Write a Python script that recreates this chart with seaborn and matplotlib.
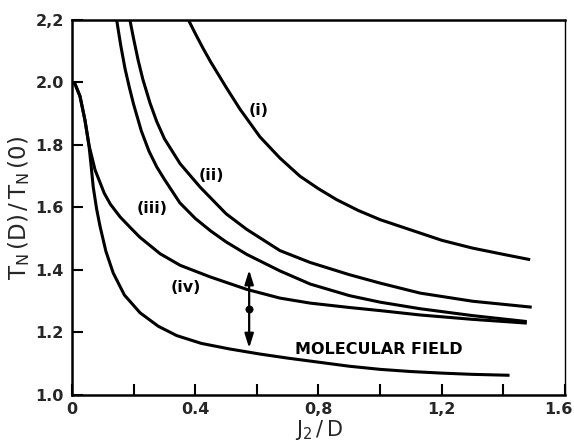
import matplotlib
matplotlib.use("Agg")
import matplotlib.pyplot as plt
import matplotlib.transforms as mtransforms
import pandas as pd
import seaborn as sns

# Neel temperature ratio versus J2/D for the four approximations and molecular field
I_X = [0.378, 0.4, 0.425, 0.45, 0.5, 0.545, 0.61, 0.675, 0.74, 0.8, 0.859, 0.93, 1.0, 1.097, 1.2, 1.3, 1.4, 1.487]
I_Y = [2.2, 2.157, 2.11, 2.066, 1.985, 1.915, 1.826, 1.758, 1.70, 1.66, 1.625, 1.59, 1.561, 1.529, 1.495, 1.47, 1.45, 1.433]

II_X = [0.188, 0.2, 0.215, 0.23, 0.253, 0.275, 0.3, 0.351, 0.416, 0.5, 0.567, 0.675, 0.773, 0.9, 1.0, 1.13, 1.3, 1.492]
II_Y = [2.2, 2.14, 2.07, 2.01, 1.935, 1.875, 1.82, 1.74, 1.665, 1.58, 1.53, 1.462, 1.424, 1.385, 1.358, 1.326, 1.30, 1.281]

III_X = [0.145, 0.158, 0.172, 0.186, 0.2, 0.225, 0.25, 0.275, 0.3, 0.35, 0.4, 0.45, 0.5, 0.567, 0.675, 0.773, 0.9, 1.0, 1.13, 1.3, 1.476]
III_Y = [2.2, 2.12, 2.045, 1.985, 1.93, 1.845, 1.78, 1.73, 1.69, 1.615, 1.565, 1.525, 1.49, 1.45, 1.397, 1.355, 1.318, 1.297, 1.276, 1.254, 1.235]

IV_X = [0, 0.01, 0.026, 0.042, 0.055, 0.065, 0.075, 0.089, 0.105, 0.125, 0.156, 0.19, 0.22, 0.286, 0.351, 0.448, 0.567, 0.675, 0.773, 0.9, 1.0, 1.13, 1.3, 1.476]
IV_Y = [2.0, 1.995, 1.956, 1.88, 1.80, 1.76, 1.72, 1.685, 1.645, 1.61, 1.57, 1.535, 1.505, 1.452, 1.415, 1.378, 1.338, 1.31, 1.294, 1.28, 1.27, 1.256, 1.242, 1.23]

MF_X = [0, 0.01, 0.026, 0.042, 0.055, 0.062, 0.069, 0.08, 0.091, 0.11, 0.134, 0.17, 0.221, 0.28, 0.34, 0.42, 0.513, 0.61, 0.70, 0.80, 0.90, 1.0, 1.1, 1.2, 1.3, 1.42]
MF_Y = [2.0, 1.995, 1.956, 1.88, 1.80, 1.735, 1.665, 1.595, 1.54, 1.46, 1.39, 1.32, 1.263, 1.22, 1.19, 1.165, 1.147, 1.131, 1.118, 1.105, 1.092, 1.082, 1.075, 1.07, 1.066, 1.063]

CURVE_NAMES = ["(i)", "(ii)", "(iii)", "(iv)", "MOLECULAR FIELD"]
LABEL_X = [0.607, 0.451, 0.26, 0.37, 0.997]
LABEL_Y = [1.909, 1.702, 1.596, 1.343, 1.144]

# error bar with a central point
BAR_X = 0.575
BAR_MID = 1.275
BAR_LOW = 1.15
BAR_HIGH = 1.40

X_TICKS = [0, 0.4, 0.8, 1.2, 1.6]
X_TICK_LABELS = ["0", "0.4", "0,8", "1,2", "1.6"]
X_MINOR = [0.2, 0.6, 1.0, 1.4]
Y_TICKS = [1.0, 1.2, 1.4, 1.6, 1.8, 2.0, 2.2]
Y_TICK_LABELS = ["1.0", "1.2", "1.4", "1.6", "1.8", "2.0", "2,2"]

sns.set_theme(style="ticks")
plt.rcParams["font.family"] = ["DejaVu Sans"]

frames = []
for name, xs, ys in zip(CURVE_NAMES,
                        [I_X, II_X, III_X, IV_X, MF_X],
                        [I_Y, II_Y, III_Y, IV_Y, MF_Y]):
    frames.append(pd.DataFrame({"x": xs, "y": ys, "curve": name}))
data = pd.concat(frames, ignore_index=True)

fig = plt.figure(figsize=(5.74, 4.44), dpi=100)
ax = fig.add_axes([0.1254, 0.1104, 0.8589, 0.8446])

sns.lineplot(data=data, x="x", y="y", units="curve", estimator=None,
             sort=False, color="black", lw=2.2, ax=ax, legend=False)
for line in ax.get_lines():
    line.set_solid_joinstyle("round")
    line.set_solid_capstyle("butt")

# vertical double-headed arrow
arrow_style = dict(arrowstyle="-|>,head_length=0.7,head_width=0.22",
                   color="black", lw=1.6, shrinkA=0, shrinkB=0)
ax.annotate("", xy=(BAR_X, BAR_HIGH), xytext=(BAR_X, BAR_MID), arrowprops=arrow_style)
ax.annotate("", xy=(BAR_X, BAR_LOW), xytext=(BAR_X, BAR_MID), arrowprops=arrow_style)
sns.scatterplot(x=[BAR_X], y=[BAR_MID], color="black", s=28, ax=ax,
                edgecolor="black", zorder=5)

for name, lx, ly in zip(CURVE_NAMES, LABEL_X, LABEL_Y):
    ax.text(lx, ly, name, ha="center", va="center", fontsize=11.5,
            fontweight="bold", color="black")

ax.set_xlim(0, 1.6)
ax.set_ylim(1.0, 2.2)
ax.set_xticks(X_TICKS)
ax.set_xticklabels(X_TICK_LABELS)
ax.set_xticks(X_MINOR, minor=True)
ax.set_yticks(Y_TICKS)
ax.set_yticklabels(Y_TICK_LABELS)
ax.tick_params(axis="both", which="both", direction="in", length=8,
               width=1.5, color="black", labelsize=11.5)
ax.tick_params(axis="x", pad=5)
ax.tick_params(axis="y", pad=6)
for lab in ax.get_xticklabels() + ax.get_yticklabels():
    lab.set_fontweight("bold")

# keep the last x tick label inside the figure
last = ax.get_xticklabels()[-1]
last.set_transform(last.get_transform() +
                   mtransforms.ScaledTranslation(-5 / 72, 0, fig.dpi_scale_trans))

for side in ["left", "bottom", "top"]:
    ax.spines[side].set_linewidth(1.8)
    ax.spines[side].set_color("black")
ax.spines["right"].set_linewidth(1.0)
ax.spines["right"].set_color("black")

ax.set_xlabel(r"$\mathregular{J_2\,/\,D}$", fontsize=15, labelpad=1)
ax.set_ylabel(r"$\mathregular{T_N\,(D)\,/\,T_N\,(0)}$", fontsize=16.5, labelpad=2)

fig.savefig("out.png", dpi=100, facecolor="white")
